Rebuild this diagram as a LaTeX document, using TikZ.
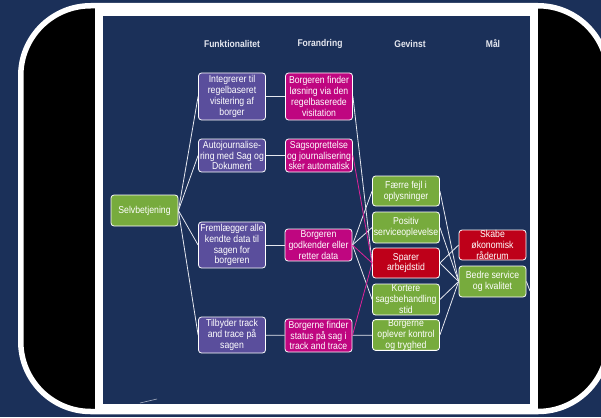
\documentclass[tikz,border=0pt]{standalone}
\usepackage{fontspec}
\setmainfont{Liberation Sans}[FakeStretch=0.87]
\definecolor{navy}{HTML}{1B3059}
\definecolor{purp}{HTML}{5A4E9C}
\definecolor{mag}{HTML}{BF0680}
\definecolor{grn}{HTML}{77AB3D}
\definecolor{red}{HTML}{BE0019}
\definecolor{lnk}{HTML}{E6E8F0}
\definecolor{mlnk}{HTML}{E0239A}
\tikzset{
  box/.style={draw=white, line width=0.8pt, rounded corners=3pt, inner sep=0pt,
    text=white, align=center, minimum width=67pt,
    font=\fontsize{10}{10.9}\selectfont},
  fbox/.style={box, fill=purp},
  cbox/.style={box, fill=mag},
  gbox/.style={box, fill=grn},
  rbox/.style={box, fill=red},
  hdr/.style={text=lnk, font=\fontsize{9.8}{11}\selectfont\bfseries},
  lk/.style={draw=lnk, line width=0.8pt},
  mk/.style={draw=mlnk, line width=0.8pt},
}
\begin{document}
\begin{tikzpicture}[x=1pt, y=-1pt]
\useasboundingbox (0,0) rectangle (601,417);
% background and frame
\fill[navy] (0,0) rectangle (601,417);
\draw[white, line width=5.5pt, fill=black, rounded corners=70pt] (20.75,5.75) rectangle (608,411.5);
\fill[white] (95,6) rectangle (538,413);
\fill[navy] (103,16) rectangle (530,404);
% headers
\node[hdr] (h1) at (232,44) {Funktionalitet};
\node[hdr] (h2) at (320,44) {Forandring};
\node[hdr] (h3) at (410,44) {Gevinst};
\node[hdr] (h4) at (493,44) {Mål};
% nodes
\node[gbox, minimum height=31pt] (sel) at (144.5,210.5) {Selvbetjening};
\node[fbox, minimum height=47pt] (f1) at (232,96.5) {Integrerer til\\regelbaseret\\visitering af\\borger};
\node[fbox, minimum height=33pt] (f2) at (232,155.5) {Autojournalise-\\ring med Sag og\\Dokument};
\node[fbox, minimum height=46pt] (f3) at (232,245) {Fremlægger alle\\kendte data til\\sagen for\\borgeren};
\node[fbox, minimum height=36pt] (f4) at (232,335) {Tilbyder track\\and trace på\\sagen};
\node[cbox, minimum height=47pt] (c1) at (319,96.5) {Borgeren finder\\løsning via den\\regelbaserede\\visitation};
\node[cbox, minimum height=33pt] (c2) at (319,155.5) {Sagsoprettelse\\og journalisering\\sker automatisk};
\node[cbox, minimum height=32pt] (c3) at (318.5,245) {Borgeren\\godkender eller\\retter data};
\node[cbox, minimum height=33pt] (c4) at (318.5,335.5) {Borgerne finder\\status på sag i\\track and trace};
\node[gbox, minimum height=30pt] (g1) at (406,191) {Færre fejl i\\oplysninger};
\node[gbox, minimum height=31pt] (g2) at (406,227.5) {Positiv\\serviceoplevelse};
\node[rbox, minimum height=30pt] (g3) at (406,263) {Sparer\\arbejdstid};
\node[gbox, minimum height=31pt] (g4) at (406,299.5) {Kortere\\sagsbehandling\\stid};
\node[gbox, minimum height=30pt] (g5) at (406,335) {Borgerne\\oplever kontrol\\og tryghed};
\node[rbox, minimum height=30pt] (m1) at (492.5,245) {Skabe\\økonomisk\\råderum};
\node[gbox, minimum height=31pt] (m2) at (492.5,281.5) {Bedre service\\og kvalitet};
\coordinate (edge) at (530,291);
\coordinate (s1) at (140,403);
\coordinate (s2) at (157,399);
% connectors
\path[lk] (sel.east) -- (f1.west);
\path[lk] (sel.east) -- (f2.west);
\path[lk] (sel.east) -- (f3.west);
\path[lk] (sel.east) -- (f4.west);
\path[lk] (f1) -- (c1);
\path[lk] (f2) -- (c2);
\path[lk] (f3) -- (c3);
\path[lk] (f4) -- (c4);
\path[lk] (c4) -- (g5);
\path[lk] (c1.east) -- (g3.west);
\path[lk] (c3.east) -- (g1.west);
\path[lk] (c3.east) -- (g2.west);
\path[lk] (c3.east) -- (g4.west);
\path[mk] (c2.east) -- (g3.west);
\path[mk] (c3.east) -- (g3.west);
\path[mk] (c4.east) -- (g3.west);
\path[lk] (g1.east) -- (m2.west);
\path[lk] (g2.east) -- (m2.west);
\path[lk] (g3.east) -- (m2.west);
\path[lk] (g4.east) -- (m2.west);
\path[lk] (g5.east) -- (m2.west);
\path[lk] (g3.east) -- (m1.west);
\path[lk] (m2.east) -- (edge);
\path[draw=lnk!70!navy, line width=0.6pt] (s1) -- (s2);
\end{tikzpicture}
\end{document}
